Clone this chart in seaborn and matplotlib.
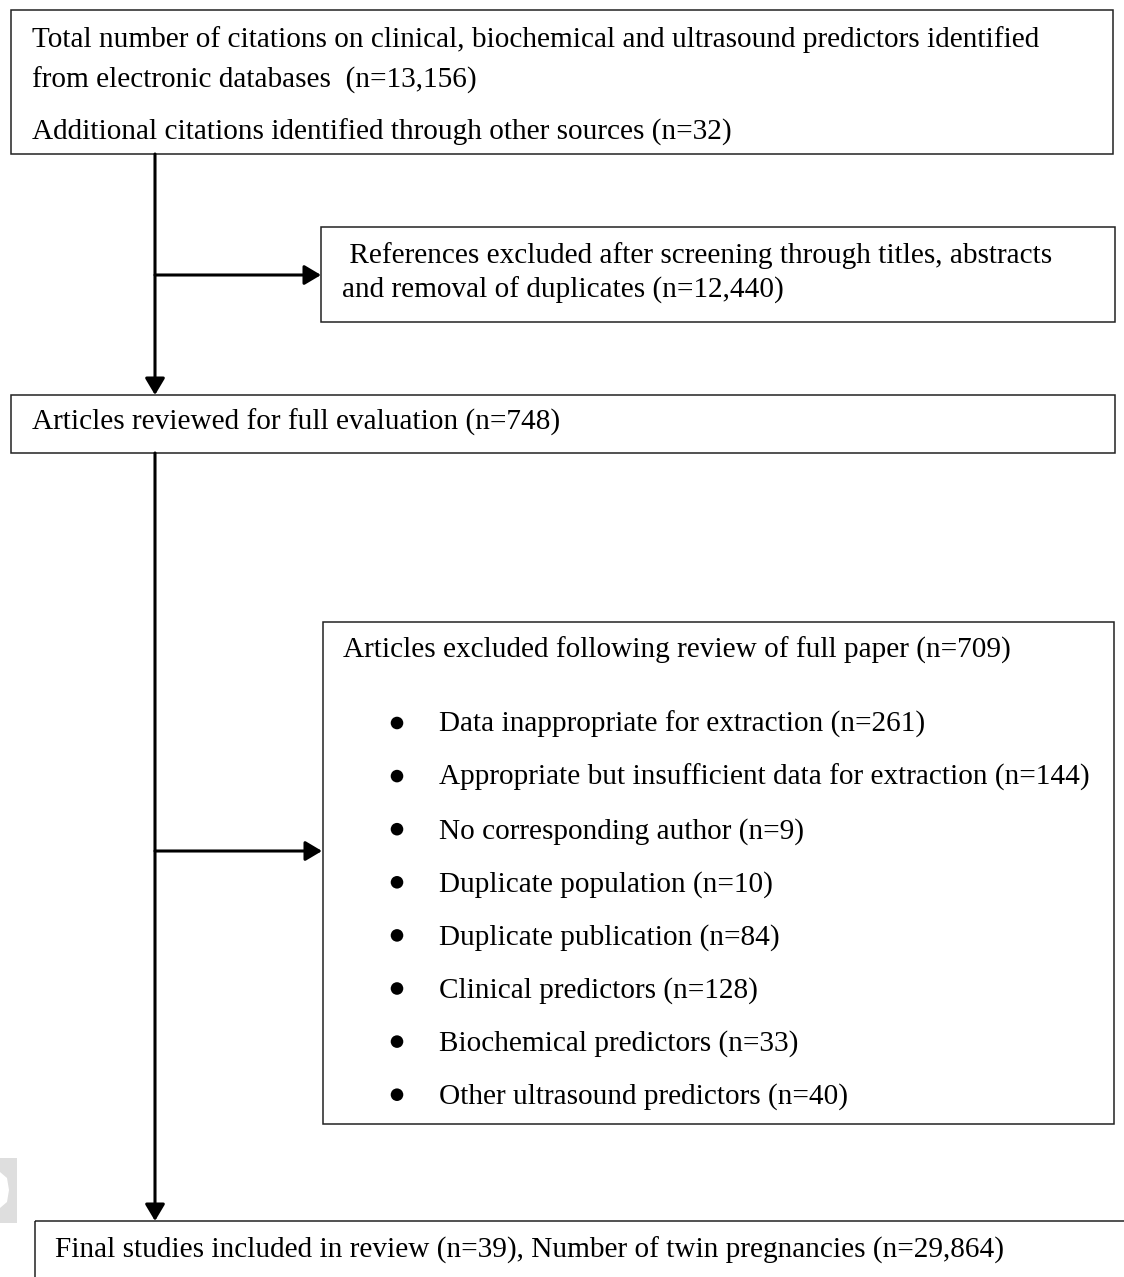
import matplotlib
matplotlib.use("Agg")
import matplotlib.pyplot as plt
import matplotlib.patches as patches
import seaborn as sns

# flow diagram content
top_lines = [
    "Total number of citations on clinical, biochemical and ultrasound predictors identified",
    "from electronic databases  (n=13,156)",
    "Additional citations identified through other sources (n=32)",
]
screen_lines = [
    " References excluded after screening through titles, abstracts",
    "and removal of duplicates (n=12,440)",
]
reviewed_text = "Articles reviewed for full evaluation (n=748)"
excluded_header = "Articles excluded following review of full paper (n=709)"
excluded_reasons = [
    "Data inappropriate for extraction",
    "Appropriate but insufficient data for extraction",
    "No corresponding author",
    "Duplicate population",
    "Duplicate publication",
    "Clinical predictors",
    "Biochemical predictors",
    "Other ultrasound predictors",
]
excluded_counts = [261, 144, 9, 10, 84, 128, 33, 40]
final_text = "Final studies included in review (n=39), Number of twin pregnancies (n=29,864)"

sns.set_theme(style="white")
plt.rcParams["font.family"] = ["Liberation Serif", "DejaVu Serif"]
plt.rcParams["text.color"] = "black"

W, H = 1124, 1277
fig = plt.figure(figsize=(W / 100, H / 100), dpi=100)
ax = fig.add_axes([0, 0, 1, 1])

FS = 21.1
box_kw = dict(fill=False, lw=1.1, edgecolor="#222222")


def box(x0, y0, x1, y1):
    ax.add_patch(patches.Rectangle((x0, y0), x1 - x0, y1 - y0, **box_kw))


def arrow(start, end):
    ax.annotate(
        "",
        xy=end,
        xytext=start,
        arrowprops=dict(
            arrowstyle="-|>,head_length=0.42,head_width=0.25",
            mutation_scale=24,
            lw=2.2,
            color="black",
            shrinkA=0,
            shrinkB=0,
        ),
    )


# bullets for the exclusion reasons
bullet_y = [723 + 53.1 * i for i in range(len(excluded_reasons))]
sns.scatterplot(x=[397] * len(bullet_y), y=bullet_y, s=82, color="black",
                edgecolor="none", ax=ax, legend=False)
ax.set_xlim(0, W)
ax.set_ylim(H, 0)
ax.axis("off")

# top box
box(11, 10, 1113, 154)
clip = patches.Rectangle((0, 0), W, 147, transform=ax.transData)
for line, yb in zip(top_lines, [47, 88, 140]):
    t = ax.text(32, yb, line, fontsize=FS, va="baseline", ha="left")
    t.set_clip_path(clip)

# screening exclusion box
box(321, 227, 1115, 322)
ax.text(342, 263, screen_lines[0], fontsize=FS, va="baseline")
ax.text(342, 298, screen_lines[1], fontsize=FS, va="baseline")

# reviewed box
box(11, 395, 1115, 453)
ax.text(32, 430, reviewed_text, fontsize=FS, va="baseline")

# full-paper exclusion box
box(323, 622, 1114, 1124)
ax.text(343, 658, excluded_header, fontsize=FS, va="baseline")
for reason, n, yc in zip(excluded_reasons, excluded_counts, bullet_y):
    ax.text(439, yc + 9, "{} (n={})".format(reason, n), fontsize=FS, va="baseline")

# final box (runs off the page)
box(35, 1221, 1300, 1400)
ax.text(55, 1258, final_text, fontsize=FS, va="baseline")

# connectors
arrow((155, 154), (155, 395))
arrow((155, 275), (321, 275))
arrow((155, 453), (155, 1221))
arrow((155, 851), (322, 851))

# faint mark at left edge
ax.add_patch(patches.Polygon(
    [(0, 1158), (17, 1158), (17, 1223), (0, 1223), (0, 1208),
     (7, 1202), (9, 1190), (7, 1178), (0, 1172)],
    closed=True, facecolor="#dedede", edgecolor="none"))

fig.savefig("out.png", dpi=100, facecolor="white")
